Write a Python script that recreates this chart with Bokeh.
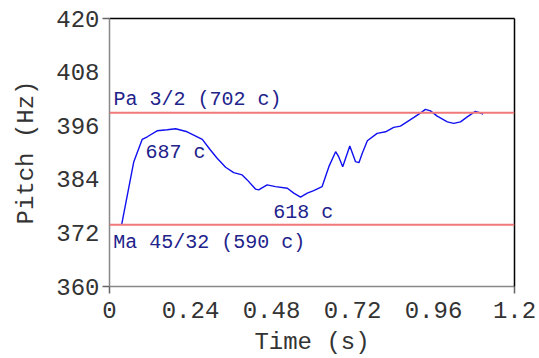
from bokeh.plotting import figure
from bokeh.models import FixedTicker, LinearAxis, Range1d, Span
from bokeh.embed import file_html
from bokeh.resources import INLINE
from bokeh.core.properties import value

# pitch contour (s, Hz)
time_s = [0.036, 0.072, 0.097, 0.112, 0.141, 0.171, 0.196, 0.230, 0.275, 0.299,
          0.319, 0.344, 0.368, 0.393, 0.408, 0.433, 0.442, 0.467, 0.492, 0.527,
          0.546, 0.566, 0.586, 0.605, 0.630, 0.650, 0.670, 0.679, 0.691, 0.712,
          0.729, 0.739, 0.749, 0.764, 0.793, 0.818, 0.842, 0.862, 0.902, 0.922,
          0.936, 0.951, 0.971, 1.001, 1.020, 1.040, 1.060, 1.084, 1.094, 1.107]
pitch_hz = [373.83, 387.95, 392.94, 393.52, 394.86, 395.09, 395.31, 394.64, 392.94, 390.56,
            388.71, 386.70, 385.49, 384.98, 383.87, 381.79, 381.64, 382.75, 382.37, 382.01,
            380.90, 380.01, 380.90, 381.48, 382.37, 386.83, 390.18, 389.06, 386.83, 391.45,
            387.95, 387.72, 389.82, 392.63, 394.28, 394.64, 395.62, 395.91, 397.85, 398.88,
            399.64, 399.32, 398.14, 396.87, 396.51, 396.87, 397.98, 399.19, 398.97, 398.59]

# reference pitches
ref_names = ["Pa 3/2 (702 c)", "Ma 45/32 (590 c)"]
ref_pitch = [398.9, 373.8]
ref_label_x = [0.012, 0.011]
ref_label_y = [401.8, 369.85]

# contour annotations
note_texts = ["687 c", "618 c"]
note_x = [0.107, 0.485]
note_y = [390.1, 376.5]

x_ticks = [0, 0.24, 0.48, 0.72, 0.96, 1.2]
x_tick_labels = ["0", "0.24", "0.48", "0.72", "0.96", "1.2"]
y_ticks = [360, 372, 384, 396, 408, 420]
y_tick_labels = ["360", "372", "384", "396", "408", "420"]

FONT = "Liberation Mono"
TEXT_COLOR = "#22228b"

p = figure(width=539, height=358, output_backend="svg", toolbar_location=None,
           x_range=Range1d(0, 1.2), y_range=Range1d(360, 420),
           min_border_left=109, min_border_right=25, min_border_top=18, min_border_bottom=71,
           x_axis_label="Time (s)", y_axis_label="Pitch (Hz)")
p.outline_line_color = None
p.grid.visible = False
p.background_fill_color = "white"
p.border_fill_color = "white"

for ax, ticks, labels, ends in ((p.xaxis[0], x_ticks, x_tick_labels, [0, 1.2]),
                                (p.yaxis[0], y_ticks, y_tick_labels, [360, 420])):
    ax.ticker = FixedTicker(ticks=ticks, minor_ticks=ends)
    ax.major_label_overrides = {t: l for t, l in zip(ticks, labels)}
    ax.axis_line_color = "#888888"
    ax.axis_line_width = 1.5
    ax.major_tick_line_color = None
    ax.major_tick_out = 6
    ax.major_tick_in = 0
    ax.minor_tick_line_color = "#666666"
    ax.minor_tick_line_width = 1.5
    ax.minor_tick_out = 7
    ax.minor_tick_in = 0
    ax.major_label_text_font = FONT
    ax.major_label_text_font_size = "24px"
    ax.major_label_text_color = "#333333"
    ax.axis_label_text_font = FONT
    ax.axis_label_text_font_size = "24px"
    ax.axis_label_text_font_style = "normal"
    ax.axis_label_text_color = "#333333"

p.xaxis.major_label_standoff = 8
p.xaxis.axis_label_standoff = 8
p.yaxis.major_label_standoff = 3
p.yaxis.axis_label_standoff = 13

for side in ("above", "right"):
    ax = LinearAxis(ticker=FixedTicker(ticks=[]), major_label_text_font_size="0px",
                    axis_line_color="black", axis_line_width=1.5,
                    major_tick_line_color=None, minor_tick_line_color=None)
    p.add_layout(ax, side)

for v in ref_pitch:
    p.add_layout(Span(location=v, dimension="width", line_color="#f07878", line_width=2))

p.line(time_s, pitch_hz, line_color="#1010f0", line_width=1.4)

p.text(x=ref_label_x, y=ref_label_y, text=ref_names, text_font=value(FONT),
       text_font_size=value("20px"), text_color=TEXT_COLOR,
       text_align="left", text_baseline="alphabetic")
p.text(x=note_x, y=note_y, text=note_texts, text_font=value(FONT),
       text_font_size=value("20px"), text_color=TEXT_COLOR,
       text_align="left", text_baseline="alphabetic")

open("out.html", "w").write(file_html(p, INLINE))
